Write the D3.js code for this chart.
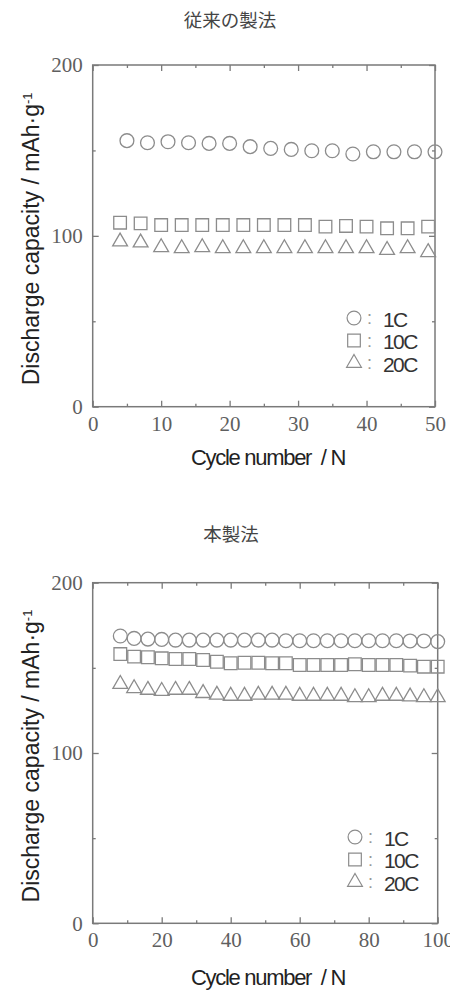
<!DOCTYPE html>
<html>
<head>
<meta charset="utf-8">
<script src="https://cdn.jsdelivr.net/npm/d3@7"></script>
<style>
  body { margin: 0; background: #fff; }
  svg { display: block; }
</style>
</head>
<body>
<div id="chart"></div>
<script>
// Conventional method (従来の製法)
const convCycles1C = [5, 8, 11, 14, 17, 20, 23, 26, 29, 32, 35, 38, 41, 44, 47, 50];
const convCycles = [4, 7, 10, 13, 16, 19, 22, 25, 28, 31, 34, 37, 40, 43, 46, 49];
const conv1C = [155.7, 154.5, 155.1, 154.5, 154.1, 154.1, 152.2, 151.2, 150.6, 149.8, 149.8, 147.9, 149.2, 149.2, 149.2, 149.2];
const conv10C = [107.7, 107.3, 106.3, 106.3, 106.3, 106.3, 106.3, 106.3, 106.3, 106.3, 105.4, 105.8, 105.4, 104.4, 104.4, 105.4];
const conv20C = [96.6, 96.0, 93.3, 92.7, 93.3, 92.7, 92.7, 92.7, 92.7, 92.7, 92.7, 92.7, 92.7, 91.7, 92.7, 90.4];

// This method (本製法)
const newCycles = [8, 12, 16, 20, 24, 28, 32, 36, 40, 44, 48, 52, 56, 60, 64, 68, 72, 76, 80, 84, 88, 92, 96, 100];
const new1C = [168.7, 167.3, 166.9, 166.7, 166.3, 166.3, 166.3, 166.3, 166.3, 166.3, 166.3, 166.3, 165.9, 165.9, 165.9, 165.9, 165.9, 165.9, 165.9, 165.9, 165.9, 165.8, 165.8, 165.4];
const new10C = [158.1, 156.6, 156.2, 155.6, 155.2, 155.2, 154.6, 153.6, 152.7, 153.0, 153.0, 152.7, 152.7, 151.7, 151.7, 151.7, 151.7, 152.1, 151.7, 151.7, 151.7, 151.3, 150.7, 150.7];
const new20C = [140.5, 138.0, 137.0, 136.4, 137.0, 137.0, 135.1, 134.1, 133.5, 133.5, 134.1, 134.1, 134.1, 133.5, 133.5, 133.5, 133.5, 132.7, 132.7, 133.5, 133.5, 133.1, 132.7, 132.7];

// Axis ticks and labels
const yMajor = [0, 100, 200];
const yMinor = [50, 150];
const convXMajor = [0, 10, 20, 30, 40, 50];
const convXMinor = [5, 15, 25, 35, 45];
const newXMajor = [0, 20, 40, 60, 80, 100];
const newXMinor = [10, 30, 50, 70, 90];
const rateLabels = ["1C", "10C", "20C"];
const titles = ["従来の製法", "本製法"];

const markColor = "#8c8c8c";
const frameColor = "#7a7a7a";

const svg = d3
  .select("#chart")
  .append("svg")
  .attr("width", 450)
  .attr("height", 990);

const symbols = [d3.symbolCircle, d3.symbolSquare, d3.symbolTriangle];
const symbolSizes = [150, 160, 95];

function drawPanel(cfg) {
  const x = d3.scaleLinear().domain([0, cfg.xMax]).range([cfg.left, cfg.right]);
  const y = d3.scaleLinear().domain([0, 200]).range([cfg.bottom, cfg.top]);

  // Title
  svg
    .append("text")
    .attr("x", cfg.titleX)
    .attr("y", cfg.titleY)
    .attr("text-anchor", "middle")
    .attr("dominant-baseline", "central")
    .attr("font-family", "'Noto Sans CJK JP', sans-serif")
    .attr("font-size", "18.5px")
    .attr("fill", "#444")
    .text(cfg.title);

  // Frame
  svg
    .append("rect")
    .attr("x", cfg.left)
    .attr("y", cfg.top)
    .attr("width", cfg.right - cfg.left)
    .attr("height", cfg.bottom - cfg.top)
    .attr("fill", "none")
    .attr("stroke", frameColor)
    .attr("stroke-width", 1.5);

  // Ticks on all four sides, pointing inward
  const axes = [
    { axis: d3.axisBottom(x), pos: `translate(0,${cfg.bottom})`, major: cfg.xMajor, minor: cfg.xMinor, label: true, pad: 9 },
    { axis: d3.axisTop(x), pos: `translate(0,${cfg.top})`, major: cfg.xMajor, minor: cfg.xMinor, label: false, pad: 3 },
    { axis: d3.axisLeft(y), pos: `translate(${cfg.left},0)`, major: yMajor, minor: yMinor, label: true, pad: 10 },
    { axis: d3.axisRight(y), pos: `translate(${cfg.right},0)`, major: yMajor, minor: yMinor, label: false, pad: 3 },
  ];

  axes.forEach((a) => {
    const major = svg
      .append("g")
      .attr("transform", a.pos)
      .call(
        a.axis
          .tickValues(a.major)
          .tickSize(-6)
          .tickPadding(a.pad)
          .tickFormat(a.label ? d3.format("d") : "")
      );
    major.select(".domain").remove();
    major.selectAll("line").attr("stroke", frameColor).attr("stroke-width", 1.3);
    major
      .selectAll("text")
      .attr("font-family", "'Liberation Serif', 'Times New Roman', serif")
      .attr("font-size", "21px")
      .attr("fill", "#5f5f5f");

    const minor = svg
      .append("g")
      .attr("transform", a.pos)
      .call(a.axis.tickValues(a.minor).tickSize(-3).tickFormat(""));
    minor.select(".domain").remove();
    minor.selectAll("line").attr("stroke", frameColor).attr("stroke-width", 1.3);
  });

  // Data markers
  cfg.series.forEach((s, i) => {
    svg
      .append("g")
      .selectAll("path")
      .data(s.values.map((v, j) => [s.cycles[j], v]))
      .enter()
      .append("path")
      .attr("transform", (d) => `translate(${x(d[0])},${y(d[1])})`)
      .attr("d", d3.symbol().type(symbols[i]).size(symbolSizes[i]))
      .attr("fill", "none")
      .attr("stroke", markColor)
      .attr("stroke-width", 1.3);
  });

  // Y axis title
  const yTitle = svg
    .append("text")
    .attr("transform", `translate(${cfg.yTitleX},${(cfg.top + cfg.bottom) / 2 + 3}) rotate(-90)`)
    .attr("text-anchor", "middle")
    .attr("font-family", "'Liberation Sans', Arial, sans-serif")
    .attr("font-size", "23px")
    .attr("fill", "#222");
  yTitle.append("tspan").text("Discharge capacity / mAh·g");
  yTitle
    .append("tspan")
    .attr("dy", "-0.55em")
    .attr("font-size", "13px")
    .text("-1");

  // X axis title
  svg
    .append("text")
    .attr("x", cfg.xTitleX)
    .attr("y", cfg.xTitleY)
    .attr("text-anchor", "middle")
    .attr("dominant-baseline", "central")
    .attr("font-family", "'Liberation Sans', Arial, sans-serif")
    .attr("font-size", "22px")
    .attr("letter-spacing", "-1.3px")
    .attr("fill", "#222")
    .style("white-space", "pre")
    .text("Cycle number  / N");

  // Legend
  const legend = svg.append("g").attr("transform", `translate(${cfg.legendX},${cfg.legendY})`);
  rateLabels.forEach((label, i) => {
    const rowY = i * 22.5;
    legend
      .append("path")
      .attr("transform", `translate(0,${rowY})`)
      .attr("d", d3.symbol().type(symbols[i]).size(symbolSizes[i]))
      .attr("fill", "none")
      .attr("stroke", markColor)
      .attr("stroke-width", 1.2);
    legend
      .append("text")
      .attr("x", 13)
      .attr("y", rowY)
      .attr("dominant-baseline", "central")
      .attr("font-family", "'Liberation Sans', Arial, sans-serif")
      .attr("font-size", "18px")
      .attr("fill", "#999")
      .text(":");
    legend
      .append("text")
      .attr("x", 29)
      .attr("y", rowY + 1)
      .attr("dominant-baseline", "central")
      .attr("font-family", "'Liberation Sans', Arial, sans-serif")
      .attr("font-size", "21px")
      .attr("letter-spacing", "-1.6px")
      .attr("fill", "#333")
      .text(label);
  });
}

drawPanel({
  title: titles[0],
  titleX: 230,
  titleY: 19,
  left: 92.7,
  right: 435,
  top: 65,
  bottom: 406.7,
  xMax: 50,
  xMajor: convXMajor,
  xMinor: convXMinor,
  yTitleX: 39,
  xTitleX: 268,
  xTitleY: 457,
  legendX: 354,
  legendY: 318,
  series: [
    { cycles: convCycles1C, values: conv1C },
    { cycles: convCycles, values: conv10C },
    { cycles: convCycles, values: conv20C },
  ],
});

drawPanel({
  title: titles[1],
  titleX: 231,
  titleY: 533,
  left: 92.7,
  right: 437.7,
  top: 582.7,
  bottom: 923.3,
  xMax: 100,
  xMajor: newXMajor,
  xMinor: newXMinor,
  yTitleX: 39,
  xTitleX: 268,
  xTitleY: 977,
  legendX: 355,
  legendY: 837,
  series: [
    { cycles: newCycles, values: new1C },
    { cycles: newCycles, values: new10C },
    { cycles: newCycles, values: new20C },
  ],
});
</script>
</body>
</html>
